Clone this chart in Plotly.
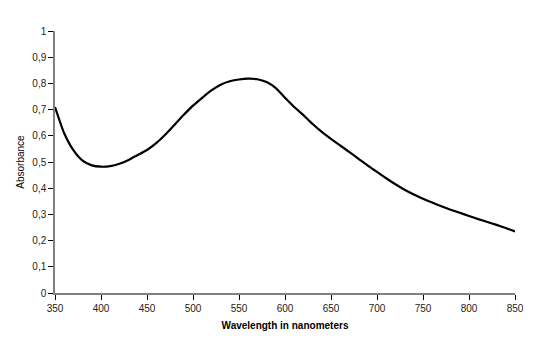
import plotly.graph_objects as go

# Absorption spectrum, sampled every 10 nm
wavelength_nm = list(range(350, 851, 10))
absorbance = [
    0.710, 0.610, 0.545, 0.505, 0.487, 0.482, 0.484, 0.493, 0.508, 0.527,
    0.546, 0.572, 0.605, 0.642, 0.680, 0.715, 0.745, 0.773, 0.795, 0.808,
    0.815, 0.818, 0.816, 0.805, 0.782, 0.745, 0.710, 0.679, 0.645, 0.615,
    0.588, 0.563, 0.538, 0.512, 0.486, 0.462, 0.438, 0.415, 0.394, 0.376,
    0.360, 0.345, 0.331, 0.318, 0.306, 0.294, 0.282, 0.271, 0.260, 0.248,
    0.235,
]

x_ticks = list(range(350, 851, 50))
y_ticks = [round(i * 0.1, 1) for i in range(11)]

fig = go.Figure(
    go.Scatter(
        x=wavelength_nm,
        y=absorbance,
        mode="lines",
        line=dict(color="#000000", width=2.2, shape="spline", smoothing=0.6),
        hoverinfo="skip",
    )
)

axis_common = dict(
    showgrid=False,
    zeroline=False,
    showline=True,
    linecolor="#808080",
    linewidth=1.5,
    ticks="outside",
    ticklen=5,
    tickwidth=1,
    tickcolor="#000000",
    tickfont=dict(family="Liberation Sans, Arial", size=10, color="#222222"),
)

fig.update_xaxes(
    range=[350, 850],
    tickvals=x_ticks,
    title=dict(
        text="<b>Wavelength in nanometers</b>",
        font=dict(family="Liberation Sans, Arial", size=10, color="#000000"),
        standoff=9,
    ),
    **axis_common,
)
fig.update_yaxes(
    range=[0, 1],
    tickvals=y_ticks,
    title=dict(
        text="Absorbance",
        font=dict(family="Liberation Sans, Arial", size=10, color="#000000"),
        standoff=6,
    ),
    **axis_common,
)

fig.update_layout(
    width=553,
    height=350,
    margin=dict(l=55, r=38, t=31, b=57),
    plot_bgcolor="#ffffff",
    paper_bgcolor="#ffffff",
    separators=", ",
    showlegend=False,
)

fig.write_html("out.html")
